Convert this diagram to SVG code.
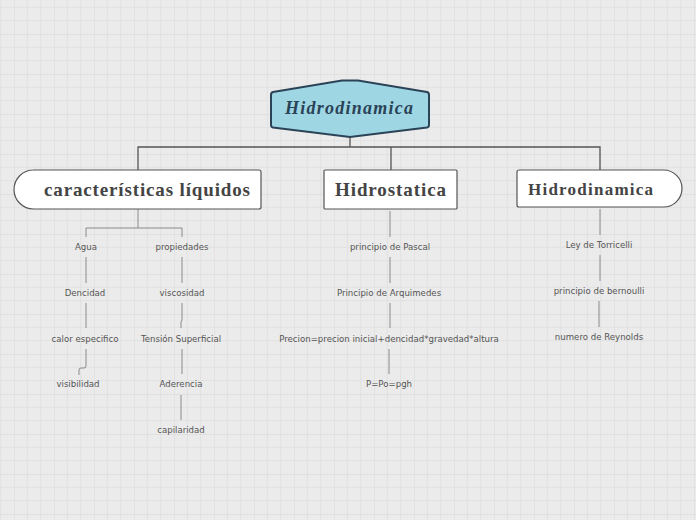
<svg xmlns="http://www.w3.org/2000/svg" width="696" height="520" viewBox="0 0 696 520">
<defs>
<pattern id="grid" width="40" height="40" patternUnits="userSpaceOnUse" x="14" y="-6">
<rect width="40" height="40" fill="#ebebeb"/>
<path d="M13.33 0V40M26.67 0V40M0 13.33H40M0 26.67H40" stroke="#e2e2e2" stroke-width="1"/>
<path d="M0 0V40M0 0H40" stroke="#dddddd" stroke-width="1.3"/>
</pattern>
<style>
.t{font-family:"Liberation Serif","Times New Roman",serif;font-weight:bold;fill:#444;text-anchor:middle}
.s{font-family:"DejaVu Sans",Verdana,sans-serif;font-size:8.6px;fill:#555;text-anchor:middle}
.box{fill:#fff;stroke:#555;stroke-width:1.2}
.c{fill:none;stroke:#555;stroke-width:1.3}
.l{fill:none;stroke:#8a8a8a;stroke-width:1}
</style>
</defs>
<rect width="696" height="520" fill="url(#grid)"/>
<g id="connectors">
<path class="c" d="M350 137V147M138 170V147H600V170M391 147V170"/>
<path class="l" d="M138 209V228M86 237V228H182V237"/>
<path class="l" d="M86 257V283M86 303V328M86 349V366Q86 368 84 368H81Q79 368 79 370V375"/>
<path class="l" d="M182 257V283M182 303V320L181 322V328M182 349V374M181 395V420"/>
<path class="l" d="M390 211V237M390 257V283M390 303V328M389 349V374"/>
<path class="l" d="M600 209V235M600 255V281M599 301V327"/>
</g>
<g id="root">
<path d="M273 92 L342 80.5 H358 L427 92 Q429 92.5 429 95 V125 Q429 127 427 127.5 L350 137 L273 127.5 Q271 127 271 125 V95 Q271 92.5 273 92 Z" fill="#9ed6e4" stroke="#2b4356" stroke-width="2"/>
<text x="349" y="114" class="t" style="font-style:italic;font-size:18px;fill:#2b4356" textLength="128" lengthAdjust="spacing">Hidrodinamica</text>
</g>
<g id="caracteristicas">
<path class="box" d="M33 170H259Q261 170 261 172V207Q261 209 259 209H33.5A19.5 19.5 0 0 1 33.5 170Z"/>
<text x="147" y="196" class="t" style="font-size:19px" textLength="206" lengthAdjust="spacing">características líquidos</text>
</g>
<g id="hidrostatica">
<rect class="box" x="324" y="170" width="133" height="39" rx="1"/>
<text x="390.5" y="196" class="t" style="font-size:19px" textLength="111" lengthAdjust="spacing">Hidrostatica</text>
</g>
<g id="hidrodinamica">
<path class="box" d="M519 170H663.5A18.5 18.5 0 0 1 663.5 207H519Q517 207 517 205V172Q517 170 519 170Z"/>
<text x="590.5" y="195" class="t" style="font-size:17px" textLength="125" lengthAdjust="spacing">Hidrodinamica</text>
</g>
<g id="agua"><text x="86" y="250" class="s">Agua</text></g>
<g id="propiedades"><text x="182" y="250" class="s">propiedades</text></g>
<g id="dencidad"><text x="85" y="296" class="s">Dencidad</text></g>
<g id="viscosidad"><text x="182" y="296" class="s">viscosidad</text></g>
<g id="calor"><text x="85" y="342" class="s">calor especifico</text></g>
<g id="tension"><text x="181" y="342" class="s">Tensión Superficial</text></g>
<g id="visibilidad"><text x="78" y="387" class="s">visibilidad</text></g>
<g id="aderencia"><text x="181" y="387" class="s">Aderencia</text></g>
<g id="capilaridad"><text x="181" y="433" class="s">capilaridad</text></g>
<g id="pascal"><text x="390" y="250" class="s">principio de Pascal</text></g>
<g id="arquimedes"><text x="389" y="296" class="s">Principio de Arquimedes</text></g>
<g id="precion"><text x="389" y="342" class="s">Precion=precion inicial+dencidad*gravedad*altura</text></g>
<g id="ppo"><text x="389" y="387" class="s">P=Po=pgh</text></g>
<g id="torricelli"><text x="599" y="248" class="s">Ley de Torricelli</text></g>
<g id="bernoulli"><text x="599" y="294" class="s">principio de bernoulli</text></g>
<g id="reynolds"><text x="599" y="340" class="s">numero de Reynolds</text></g>
</svg>
